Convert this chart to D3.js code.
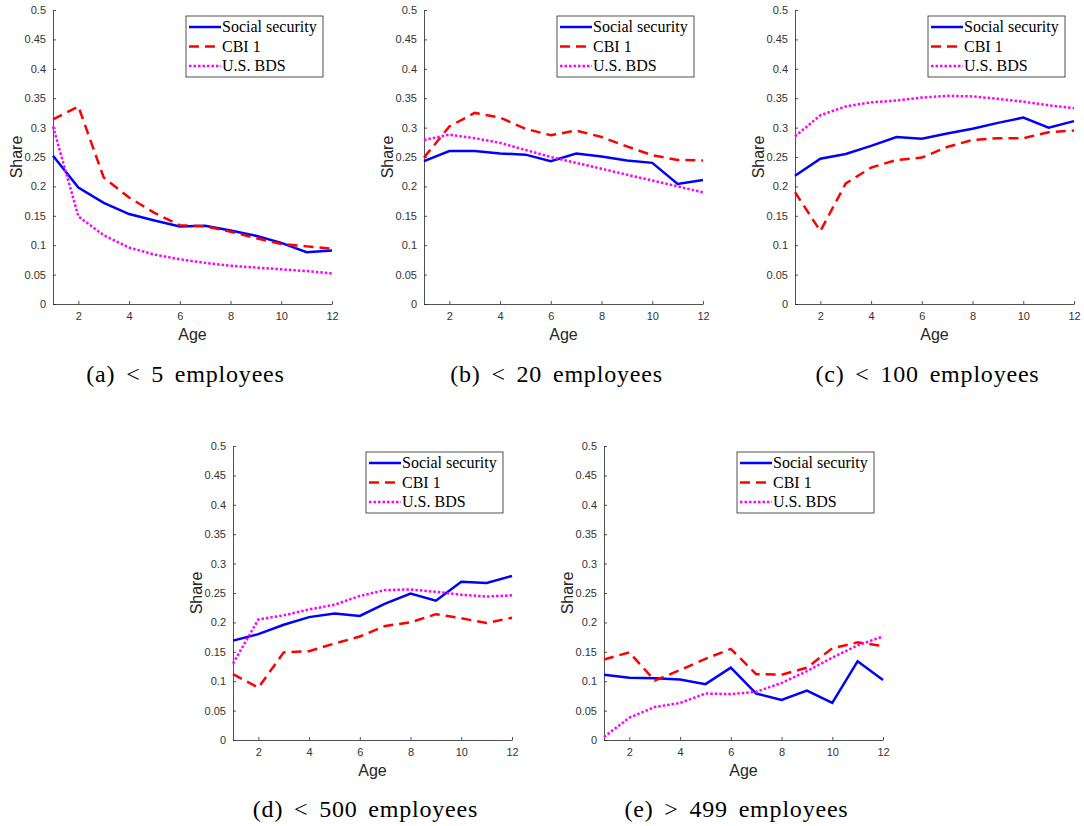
<!DOCTYPE html>
<html>
<head>
<meta charset="utf-8">
<script src="https://cdn.jsdelivr.net/npm/d3@7"></script>
<style>
  body { margin: 0; background: #fff; }
</style>
</head>
<body>
<div id="chart"></div>
<script>
// ages on the x axis
var ages = [1, 2, 3, 4, 5, 6, 7, 8, 9, 10, 11, 12];
var seriesNames = ["Social security", "CBI 1", "U.S. BDS"];
var yTicks = [0, 0.05, 0.1, 0.15, 0.2, 0.25, 0.3, 0.35, 0.4, 0.45, 0.5];
var xTicks = [2, 4, 6, 8, 10, 12];

// (a) < 5 employees
var ssA  = [0.252, 0.198, 0.172, 0.153, 0.142, 0.132, 0.133, 0.125, 0.116, 0.104, 0.088, 0.091];
var cbiA = [0.314, 0.336, 0.215, 0.181, 0.155, 0.134, 0.132, 0.123, 0.112, 0.102, 0.098, 0.094];
var bdsA = [0.302, 0.149, 0.117, 0.096, 0.084, 0.076, 0.070, 0.065, 0.062, 0.059, 0.056, 0.052];
// (b) < 20 employees
var ssB  = [0.243, 0.260, 0.260, 0.256, 0.254, 0.243, 0.256, 0.251, 0.244, 0.240, 0.204, 0.211];
var cbiB = [0.249, 0.302, 0.325, 0.317, 0.298, 0.287, 0.295, 0.284, 0.268, 0.253, 0.245, 0.244];
var bdsB = [0.279, 0.288, 0.282, 0.274, 0.262, 0.250, 0.240, 0.230, 0.220, 0.210, 0.200, 0.190];
// (c) < 100 employees
var ssC  = [0.218, 0.247, 0.255, 0.269, 0.284, 0.281, 0.290, 0.298, 0.308, 0.317, 0.300, 0.311];
var cbiC = [0.190, 0.124, 0.205, 0.232, 0.245, 0.249, 0.267, 0.279, 0.282, 0.282, 0.292, 0.295];
var bdsC = [0.285, 0.321, 0.336, 0.343, 0.346, 0.351, 0.354, 0.353, 0.349, 0.344, 0.338, 0.333];
// (d) < 500 employees
var ssD  = [0.169, 0.180, 0.196, 0.209, 0.215, 0.211, 0.232, 0.249, 0.237, 0.269, 0.267, 0.279];
var cbiD = [0.112, 0.089, 0.149, 0.151, 0.164, 0.176, 0.194, 0.200, 0.214, 0.207, 0.199, 0.208];
var bdsD = [0.130, 0.205, 0.212, 0.222, 0.230, 0.245, 0.255, 0.256, 0.252, 0.247, 0.244, 0.246];
// (e) > 499 employees
var ssE  = [0.111, 0.106, 0.105, 0.103, 0.095, 0.123, 0.079, 0.068, 0.084, 0.063, 0.134, 0.102];
var cbiE = [0.137, 0.149, 0.101, 0.119, 0.138, 0.155, 0.112, 0.111, 0.123, 0.156, 0.166, 0.160];
var bdsE = [0.005, 0.038, 0.056, 0.063, 0.079, 0.078, 0.082, 0.097, 0.117, 0.140, 0.161, 0.176];

var captions = ["(a)  < 5 employees", "(b)  < 20 employees", "(c)  < 100 employees",
                "(d)  < 500 employees", "(e)  > 499 employees"];

// panel placement (plot area in page pixels)
var panels = [
  {left: 53,  top: 10,  right: 332,  bottom: 304, cap: 382, data: [ssA, cbiA, bdsA]},
  {left: 424, top: 10,  right: 703,  bottom: 304, cap: 382, data: [ssB, cbiB, bdsB]},
  {left: 795, top: 10,  right: 1074, bottom: 304, cap: 382, data: [ssC, cbiC, bdsC]},
  {left: 233, top: 446, right: 512,  bottom: 740, cap: 817, data: [ssD, cbiD, bdsD]},
  {left: 604, top: 446, right: 883,  bottom: 740, cap: 817, data: [ssE, cbiE, bdsE]}
];

var colors = ["#0000ff", "#ff0000", "#ff00ff"];
var dashes = [null, "10,6", "2.5,2"];
var axisCol = "#262626";

var svg = d3.select("#chart")
  .append("svg")
    .attr("width", 1084)
    .attr("height", 826)
    .style("font-family", "'Liberation Sans', Arial, sans-serif");

panels.forEach(function(p, i) {
  var x = d3.scaleLinear().domain([1, 12]).range([p.left, p.right]);
  var y = d3.scaleLinear().domain([0, 0.5]).range([p.bottom, p.top]);

  var g = svg.append("g");

  // x axis, ticks pointing inward
  var xa = g.append("g")
    .attr("transform", "translate(0," + p.bottom + ")")
    .call(d3.axisBottom(x).tickValues(xTicks).tickSize(-3).tickPadding(8).tickSizeOuter(0));
  // y axis
  var ya = g.append("g")
    .attr("transform", "translate(" + p.left + ",0)")
    .call(d3.axisLeft(y).tickValues(yTicks).tickSize(-3).tickPadding(7).tickSizeOuter(0)
      .tickFormat(function(d) { return d3.format("~g")(d); }));

  [xa, ya].forEach(function(a) {
    a.select(".domain").attr("stroke", axisCol).attr("stroke-width", 0.8);
    a.selectAll(".tick line").attr("stroke", axisCol).attr("stroke-width", 0.8);
    a.selectAll("text").attr("fill", "#333").style("font-size", "11px");
  });

  // axis titles
  g.append("text")
    .attr("x", (p.left + p.right) / 2)
    .attr("y", p.bottom + 36)
    .attr("text-anchor", "middle")
    .attr("fill", "#262626")
    .style("font-size", "16px")
    .text("Age");
  g.append("text")
    .attr("transform", "translate(" + (p.left - 31) + "," + ((p.top + p.bottom) / 2) + ") rotate(-90)")
    .attr("text-anchor", "middle")
    .attr("fill", "#262626")
    .style("font-size", "16px")
    .text("Share");

  // lines
  var line = d3.line()
    .x(function(d, k) { return x(ages[k]); })
    .y(function(d) { return y(d); });

  p.data.forEach(function(vals, s) {
    g.append("path")
      .datum(vals)
      .attr("d", line)
      .attr("fill", "none")
      .attr("stroke", colors[s])
      .attr("stroke-width", 2.5)
      .attr("stroke-dasharray", dashes[s]);
  });

  // legend box
  var lx = p.right - 146, ly = p.top + 6;
  var lg = g.append("g").attr("transform", "translate(" + lx + "," + ly + ")");
  lg.append("rect")
    .attr("width", 137).attr("height", 61)
    .attr("fill", "#fff")
    .attr("stroke", axisCol)
    .attr("stroke-width", 0.8);
  seriesNames.forEach(function(name, s) {
    var yy = 11 + s * 19.5;
    lg.append("line")
      .attr("x1", 3).attr("x2", 35)
      .attr("y1", yy).attr("y2", yy)
      .attr("stroke", colors[s])
      .attr("stroke-width", 2.5)
      .attr("stroke-dasharray", dashes[s]);
    lg.append("text")
      .attr("x", 36).attr("y", yy + 5)
      .style("font-family", "'Liberation Serif', 'DejaVu Serif', serif")
      .style("font-size", "16px")
      .attr("fill", "#000")
      .text(name);
  });

  // caption
  svg.append("text")
    .attr("x", (p.left + p.right) / 2 - 7)
    .attr("y", p.cap)
    .attr("text-anchor", "middle")
    .style("font-family", "'Liberation Serif', 'DejaVu Serif', serif")
    .style("font-size", "24px")
    .style("letter-spacing", "0.8px")
    .style("word-spacing", "4px")
    .attr("fill", "#000")
    .text(captions[i]);
});
</script>
</body>
</html>
